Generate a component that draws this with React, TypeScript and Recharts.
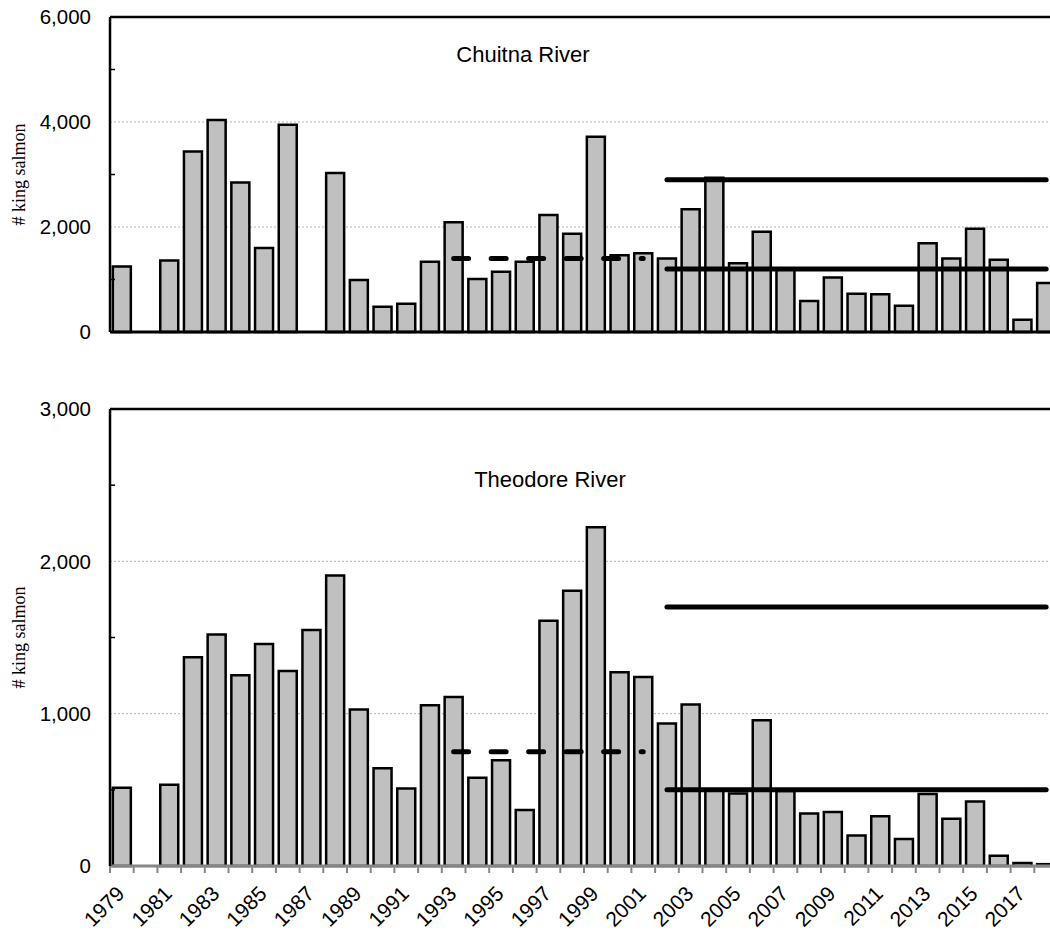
import React from 'react';
import {
  ComposedChart,
  Bar,
  Line,
  XAxis,
  YAxis,
  CartesianGrid,
  ReferenceLine,
} from 'recharts';

const years = [
  '1979', '1980', '1981', '1982', '1983', '1984', '1985', '1986', '1987', '1988',
  '1989', '1990', '1991', '1992', '1993', '1994', '1995', '1996', '1997', '1998',
  '1999', '2000', '2001', '2002', '2003', '2004', '2005', '2006', '2007', '2008',
  '2009', '2010', '2011', '2012', '2013', '2014', '2015', '2016', '2017', '2018',
];

const chuitnaCounts = [
  1250, null, 1360, 3440, 4040, 2850, 1600, 3950, null, 3030,
  990, 480, 540, 1340, 2090, 1010, 1150, 1340, 2230, 1870,
  3720, 1460, 1500, 1400, 2340, 2940, 1310, 1910, 1200, 590,
  1040, 730, 720, 500, 1690, 1400, 1965, 1375, 232, 935,
];

const theodoreCounts = [
  513, null, 533, 1370, 1519, 1252, 1457, 1280, 1549, 1907,
  1027, 642, 509, 1055, 1110, 579, 695, 367, 1610, 1807,
  2224, 1272, 1241, 935, 1060, 495, 476, 957, 492, 345,
  354, 200, 326, 177, 472, 310, 424, 67, 20, 12,
];

// dashed = historical average, lower/upper = escapement goal range
const chuitnaDashed = { from: 1993, to: 2001, value: 1400 };
const chuitnaGoal = { from: 2002, to: 2018, lower: 1200, upper: 2900 };
const theodoreDashed = { from: 1993, to: 2001, value: 750 };
const theodoreGoal = { from: 2002, to: 2018, lower: 500, upper: 1700 };

const chuitnaTicks = [0, 1000, 2000, 3000, 4000, 5000, 6000];
const chuitnaLabeled = [0, 2000, 4000, 6000];
const theodoreTicks = [0, 500, 1000, 1500, 2000, 2500, 3000];
const theodoreLabeled = [0, 1000, 2000, 3000];

const CHART_W = 1060;
const Y_W = 110;
const RIGHT = 2;
const BAND = (CHART_W - Y_W - RIGHT) / years.length;

const SANS = 'Liberation Sans, Arial, sans-serif';
const SERIF = 'Liberation Serif, Times New Roman, serif';

type Seg = { from: number; to: number };
const within = (year: string, s: Seg) => Number(year) >= s.from && Number(year) <= s.to;

const buildRows = (
  counts: (number | null)[],
  dashed: Seg & { value: number },
  goal: Seg & { lower: number; upper: number }
) =>
  years.map((year, i) => ({
    year,
    count: counts[i],
    dashed: within(year, dashed) ? dashed.value : null,
    lower: within(year, goal) ? goal.lower : null,
    upper: within(year, goal) ? goal.upper : null,
  }));

const chuitnaRows = buildRows(chuitnaCounts, chuitnaDashed, chuitnaGoal);
const theodoreRows = buildRows(theodoreCounts, theodoreDashed, theodoreGoal);

const makeYTick = (labeled: number[]) => (props: any) => {
  const { x, y, payload } = props;
  const v = payload.value as number;
  if (labeled.includes(v)) {
    return (
      <text x={x - 19} y={y} dy="0.36em" textAnchor="end" fontSize={20.5} fontFamily={SANS} fill="#000">
        {v.toLocaleString('en-US')}
      </text>
    );
  }
  return <line x1={x} x2={x + 5} y1={y} y2={y} stroke="#000" strokeWidth={1.5} />;
};

const XTick = (props: any) => {
  const { x, y, payload } = props;
  const yr = Number(payload.value);
  return (
    <g>
      <line x1={x - BAND / 2} x2={x - BAND / 2} y1={y} y2={y + 7} stroke="#868686" strokeWidth={2} />
      {yr % 2 === 1 && (
        <text
          transform={`translate(${x + 4},${y + 29}) rotate(-45)`}
          textAnchor="end"
          fontSize={21}
          fontFamily={SANS}
          fill="#000"
        >
          {payload.value}
        </text>
      )}
    </g>
  );
};

const yLabel = {
  value: '# king salmon',
  angle: -90,
  position: 'insideLeft' as const,
  offset: 19,
  style: { textAnchor: 'middle', fontFamily: SERIF, fontSize: 18, fill: '#000' },
};

const seriesLines = (
  <>
    <Line dataKey="lower" stroke="#000" strokeWidth={5} strokeLinecap="round" dot={false} activeDot={false} isAnimationActive={false} />
    <Line dataKey="upper" stroke="#000" strokeWidth={5} strokeLinecap="round" dot={false} activeDot={false} isAnimationActive={false} />
    <Line dataKey="dashed" stroke="#000" strokeWidth={5} strokeDasharray="15 22.5" strokeLinecap="round" dot={false} activeDot={false} isAnimationActive={false} />
  </>
);

const titleStyle: React.CSSProperties = {
  position: 'absolute',
  fontFamily: SANS,
  fontSize: 22,
  lineHeight: '22px',
  whiteSpace: 'nowrap',
  transform: 'translateX(-50%)',
  color: '#000',
};

export default function App() {
  return (
    <div style={{ position: 'absolute', left: 0, top: 0, width: 1050, height: 937, overflow: 'hidden', background: '#fff' }}>
      <div style={{ position: 'absolute', left: 0, top: 0 }}>
        <ComposedChart
          width={CHART_W}
          height={345}
          data={chuitnaRows}
          margin={{ top: 17, right: RIGHT, bottom: 12, left: 0 }}
          barCategoryGap="12%"
        >
          <CartesianGrid vertical={false} horizontalValues={[2000, 4000]} stroke="#b4b4b4" strokeDasharray="2 2" />
          <XAxis dataKey="year" tick={false} tickLine={false} height={1} axisLine={{ stroke: '#000', strokeWidth: 3 }} />
          <YAxis
            domain={[0, 6000]}
            ticks={chuitnaTicks}
            interval={0}
            width={Y_W}
            tickLine={false}
            tickSize={0}
            tickMargin={0}
            tick={makeYTick(chuitnaLabeled)}
            axisLine={{ stroke: '#000', strokeWidth: 2.5 }}
            label={yLabel}
          />
          <ReferenceLine y={6000} stroke="#000" strokeWidth={2.5} />
          <Bar dataKey="count" fill="#c0c0c0" stroke="#000" strokeWidth={2.5} isAnimationActive={false} />
          {seriesLines}
        </ComposedChart>
      </div>
      <div style={{ ...titleStyle, left: 523, top: 44 }}>Chuitna River</div>

      <div style={{ position: 'absolute', left: 0, top: 390 }}>
        <ComposedChart
          width={CHART_W}
          height={547}
          data={theodoreRows}
          margin={{ top: 19, right: RIGHT, bottom: 0, left: 0 }}
          barCategoryGap="12%"
        >
          <CartesianGrid vertical={false} horizontalValues={[1000, 2000]} stroke="#b4b4b4" strokeDasharray="2 2" />
          <XAxis
            dataKey="year"
            interval={0}
            height={71}
            tickLine={false}
            tickSize={0}
            tickMargin={0}
            tick={<XTick />}
            axisLine={{ stroke: '#868686', strokeWidth: 3 }}
          />
          <YAxis
            domain={[0, 3000]}
            ticks={theodoreTicks}
            interval={0}
            width={Y_W}
            tickLine={false}
            tickSize={0}
            tickMargin={0}
            tick={makeYTick(theodoreLabeled)}
            axisLine={{ stroke: '#000', strokeWidth: 2.5 }}
            label={yLabel}
          />
          <ReferenceLine y={3000} stroke="#000" strokeWidth={2.5} />
          <Bar dataKey="count" fill="#c0c0c0" stroke="#000" strokeWidth={2.5} isAnimationActive={false} />
          {seriesLines}
        </ComposedChart>
      </div>
      <div style={{ ...titleStyle, left: 550, top: 469 }}>Theodore River</div>
    </div>
  );
}
